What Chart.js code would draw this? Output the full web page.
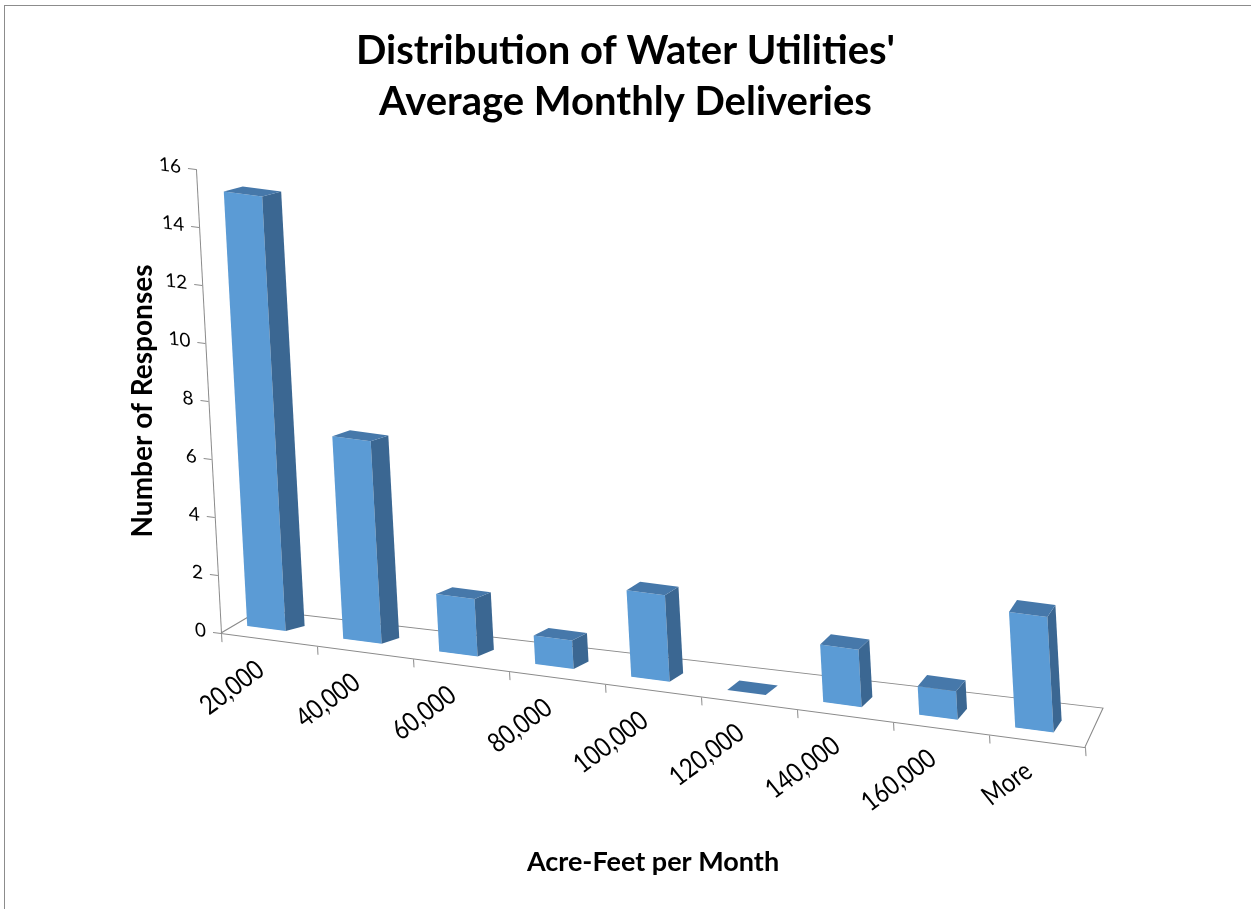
<!DOCTYPE html>
<html>
<head>
<meta charset="utf-8">
<title>Distribution of Water Utilities' Average Monthly Deliveries</title>
<script src="https://cdn.jsdelivr.net/npm/chart.js@4.4.1/dist/chart.umd.min.js"></script>
<style>
  html, body { margin: 0; padding: 0; background: #fff; }
  #wrap { position: relative; width: 1251px; height: 909px; overflow: hidden; }
  #frame { position: absolute; left: 4px; top: 5px; width: 1260px; height: 920px;
           border-left: 1px solid #8c8c8c; border-top: 1px solid #8c8c8c; }
  canvas { position: absolute; left: 0; top: 0; }
</style>
</head>
<body>
<div id="wrap">
  <div id="frame"></div>
  <canvas id="chart" width="1251" height="909"></canvas>
</div>
<script>
// data
const categories = ['20,000', '40,000', '60,000', '80,000', '100,000', '120,000', '140,000', '160,000', 'More'];
const responses = [15, 7, 2, 1, 3, 0, 2, 1, 4];
const yMin = 0;
const yMax = 16;
const yStep = 2;

// colours of the three visible faces of a column
const FRONT = '#5b9bd5';
const SIDE = '#3b6792';
const TOP = '#4678aa';
const LINE = '#8a8a8a';

// fake 3d: the floor runs down to the right, the value axis leans back
const SLOPE = 0.132;
const LEAN = 0.054;

// turn a screen offset into the tilted drawing space
function local(dx, dy) {
  const u = (dx - LEAN * dy) / (1 - LEAN * SLOPE);
  return [u, dy - SLOPE * u];
}

function depthAt(t) {
  // column depth shrinks to the right (perspective)
  return local(19 - 11 * t, -5 - 7 * t);
}

const tilt = {
  id: 'tilt',
  beforeDatasetsDraw(chart) {
    const ctx = chart.ctx;
    const a = chart.chartArea;
    ctx.save();
    ctx.transform(1, SLOPE, LEAN, 1, -LEAN * a.bottom, -SLOPE * a.left);

    // floor outline (front edge is the x axis itself)
    const l = local(39, -23);
    const r = local(18, -39);
    ctx.strokeStyle = LINE;
    ctx.lineWidth = 1;
    ctx.beginPath();
    ctx.moveTo(a.left, a.bottom);
    ctx.lineTo(a.left + l[0], a.bottom + l[1]);
    ctx.lineTo(a.right + r[0], a.bottom + r[1]);
    ctx.lineTo(a.right, a.bottom);
    ctx.stroke();
  },
  beforeDatasetDraw(chart) {
    chart.ctx.save();
    chart.ctx.translate(-2, -10);
  },
  afterDatasetDraw(chart, args) {
    const ctx = chart.ctx;
    const bars = args.meta.data;
    bars.forEach((bar, i) => {
      const p = bar.getProps(['x', 'y', 'base', 'width'], true);
      const left = p.x - p.width / 2;
      const right = p.x + p.width / 2;
      const d = depthAt(i / (bars.length - 1));

      ctx.fillStyle = SIDE;
      ctx.beginPath();
      ctx.moveTo(right, p.y);
      ctx.lineTo(right + d[0], p.y + d[1]);
      ctx.lineTo(right + d[0], p.base + d[1]);
      ctx.lineTo(right, p.base);
      ctx.closePath();
      ctx.fill();

      ctx.fillStyle = TOP;
      ctx.beginPath();
      ctx.moveTo(left, p.y);
      ctx.lineTo(left + d[0], p.y + d[1]);
      ctx.lineTo(right + d[0], p.y + d[1]);
      ctx.lineTo(right, p.y);
      ctx.closePath();
      ctx.fill();
    });
    ctx.restore();
  },
  afterDraw(chart) {
    chart.ctx.restore();
  }
};

const ctx = document.getElementById('chart').getContext('2d');

new Chart(ctx, {
  type: 'bar',
  data: {
    labels: categories,
    datasets: [{
      label: 'Number of Responses',
      data: responses,
      backgroundColor: FRONT,
      borderWidth: 0,
      barPercentage: 0.4,
      categoryPercentage: 1
    }]
  },
  options: {
    responsive: false,
    animation: false,
    layout: { padding: 0 },
    plugins: {
      legend: { display: false },
      tooltip: { enabled: false },
      title: {
        display: true,
        text: ["Distribution of Water Utilities'", 'Average Monthly Deliveries'],
        color: '#000',
        font: { family: 'Lato', size: 40, weight: 'bold', lineHeight: 1.275 },
        padding: { top: 26, bottom: 41 }
      }
    },
    scales: {
      x: {
        position: 'bottom',
        weight: 0,
        offset: true,
        grid: { offset: true, drawOnChartArea: false, tickLength: 9, color: LINE, z: 1 },
        border: { color: LINE, z: 1 },
        ticks: {
          z: 1, autoSkip: false, minRotation: 40, maxRotation: 40, padding: 8, labelOffset: -10,
          color: '#000', font: { family: 'Lato', size: 25 }
        },
        afterFit: (s) => { s.height = 200; }
      },
      xTitle: {
        type: 'category',
        position: 'bottom',
        weight: 1,
        labels: [''],
        grid: { display: false },
        border: { display: false },
        ticks: { display: false },
        title: {
          display: true, text: 'Acre-Feet per Month', color: '#000',
          font: { family: 'Lato', size: 27, weight: 'bold' },
          padding: { top: 0, bottom: 31 }
        },
        afterFit: (s) => { s.height = 76; }
      },
      y: {
        position: 'left',
        weight: 0,
        min: yMin,
        max: yMax,
        ticks: {
          stepSize: yStep, z: 1, padding: 7,
          color: '#000', font: { family: 'Lato', size: 19 }
        },
        grid: { drawOnChartArea: false, tickLength: 8, color: LINE, z: 1 },
        border: { color: LINE, z: 1 },
        afterFit: (s) => { s.width = 61; }
      },
      yTitle: {
        type: 'linear',
        position: 'left',
        weight: 1,
        grid: { display: false },
        border: { display: false },
        ticks: { display: false },
        title: {
          display: true, text: 'Number of Responses', color: '#000',
          font: { family: 'Lato', size: 28, weight: 'bold' },
          padding: { top: 126, bottom: 0 }
        },
        afterFit: (s) => { s.width = 160; }
      },
      yRight: {
        type: 'linear',
        position: 'right',
        grid: { display: false },
        border: { display: false },
        ticks: { display: false },
        afterFit: (s) => { s.width = 166; }
      }
    }
  },
  plugins: [tilt]
});
</script>
</body>
</html>
